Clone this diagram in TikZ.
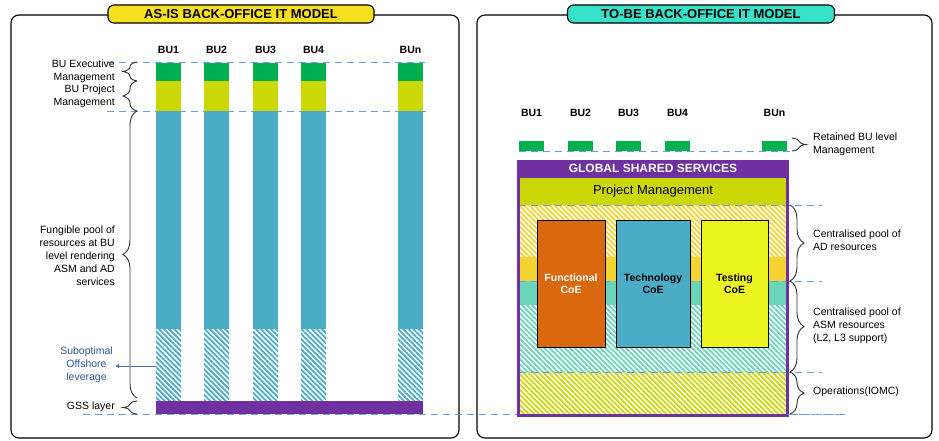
\documentclass[tikz,border=0pt]{standalone}
\usepackage{fontspec}
\setmainfont{Liberation Sans}
\usetikzlibrary{patterns.meta,decorations.pathreplacing,arrows.meta,calc}
\definecolor{cgreen}{HTML}{00B050}
\definecolor{cpm}{HTML}{CCD806}
\definecolor{cblue}{HTML}{4BACC6}
\definecolor{cpurple}{HTML}{7030A0}
\definecolor{corange}{HTML}{D9680E}
\definecolor{ctest}{HTML}{ECF522}
\definecolor{cyel}{HTML}{F5D432}
\definecolor{cteal}{HTML}{6AD5B8}
\definecolor{ctitleY}{HTML}{F7E01F}
\definecolor{ctitleC}{HTML}{36E2C8}
\definecolor{cdash}{HTML}{6C9EDF}
\definecolor{cnote}{HTML}{2F5597}
\begin{document}
\begin{tikzpicture}[x=1pt,y=-1pt,
  lbl/.style={font=\fontsize{10.5}{13}\selectfont, inner sep=0pt},
  bul/.style={font=\fontsize{10.5}{12}\selectfont\bfseries, inner sep=0pt},
  pill/.style={draw=black, line width=1.1pt, rounded corners=6pt, minimum height=18pt, inner sep=0pt, font=\fontsize{13}{14}\selectfont\bfseries},
  panel/.style={draw=black, line width=1.1pt, rounded corners=8pt},
  dl/.style={draw=cdash, line width=1pt, dash pattern=on 7pt off 5pt},
  br/.style={draw=black!80, line width=0.9pt, decorate, decoration={brace, amplitude=14pt}},
  hatch/.style={pattern={Lines[angle=-45,distance=3.6pt,line width=1.8pt]}, pattern color=#1},
  coe/.style={draw=black, line width=0.7pt, inner sep=0pt, align=center, font=\fontsize{10.5}{12.5}\selectfont\bfseries}
]
\useasboundingbox (0,0) rectangle (939,440);
\fill[white] (0,0) rectangle (939,440);

% panels
\draw[panel] (11,15) rectangle (459,438);
\draw[panel] (477,15) rectangle (932,438);
\node[pill, fill=ctitleY, minimum width=266pt] (t1) at (241,14) {AS-IS BACK-OFFICE IT MODEL};
\node[pill, fill=ctitleC, minimum width=267pt] (t2) at (701,14) {TO-BE BACK-OFFICE IT MODEL};

% ---------- left panel ----------
\draw[dl] (107,62) -- (425,62);
\draw[dl] (107,111) -- (430,111);
\foreach \x/\n in {156/1,204/2,253/3,301/4,398/n} {
  \fill[cgreen] (\x,63) rectangle ++(25,18);
  \fill[cpm] (\x,81) rectangle ++(25,30);
  \fill[cblue] (\x,111) rectangle ++(25,218);
  \fill[hatch=cblue] (\x,329) rectangle ++(25,72);
  \node[bul] (L\n) at (\x+12.5,50) {BU\n};
}
\fill[cpurple] (156,401) rectangle (423,414);
\draw[dl] (83,414.5) -- (845,414.5);

\draw[br] (137,81) -- (137,62);
\draw[br] (137,111) -- (137,81);
\draw[br] (137,398) -- (137,111);
\draw[br] (137,414) -- (137,401);

\node[lbl, align=right, anchor=east] (bue) at (115,71.5) {BU Executive\\Management};
\node[lbl, align=right, anchor=east] (bup) at (115,96) {BU Project\\Management};
\node[lbl, align=right, anchor=east] (fung) at (115,256) {Fungible pool of\\resources at BU\\level rendering\\ASM and AD\\services};
\node[lbl, align=right, anchor=east] (gssl) at (115,407) {GSS layer};
\node[lbl, align=center, anchor=east, text=cnote] (subopt) at (113,365) {Suboptimal\\Offshore\\leverage};
\coordinate (arrS) at (156,366);
\coordinate (arrE) at (115,366);
\draw[cnote!85, line width=0.9pt, -{Latex[length=4pt,width=4.5pt]}] (arrS) -- (arrE);

% ---------- right panel ----------
\foreach \x/\n in {519/1,568/2,616/3,665/4,762/n} {
  \fill[cgreen] (\x,141) rectangle ++(25,10);
  \node[bul] (R\n) at (\x+12.5,113) {BU\n};
}
\draw[dl] (519,151) -- (795,151);
\draw[br] (792,138) -- (792,151);
\node[lbl, align=left, anchor=west] (ret) at (813,144) {Retained BU level\\Management};

% GSS box
\fill[cpurple] (517,160) rectangle (789,178);
\node[inner sep=0pt, text=white, font=\fontsize{12}{13}\selectfont\bfseries] (gsst) at (653,168.5) {GLOBAL SHARED SERVICES};
\fill[cpm] (519,178) rectangle (786,205);
\node[inner sep=0pt, font=\fontsize{13}{14}\selectfont] (pm) at (653,191) {Project Management};
\fill[white] (519,205) rectangle (786,414);
\fill[hatch=cyel] (519,205) rectangle (786,257);
\fill[cyel] (519,257) rectangle (786,281);
\fill[cteal] (519,281) rectangle (786,305);
\fill[hatch=cteal] (519,305) rectangle (786,372);
\fill[hatch=cpm] (519,372) rectangle (786,414);
\draw[dl, line width=0.8pt] (519,205) -- (822,205);
\draw[dl, line width=0.8pt] (519,281) -- (822,281);
\draw[dl, line width=0.8pt] (519,372) -- (822,372);
\draw[cpurple, line width=3pt] (518.5,161.5) rectangle (787.5,415.5);
\draw[dl] (787,414.5) -- (845,414.5);

\node[coe, fill=corange, text=white, minimum width=68pt, minimum height=127pt] (fc) at (571,283.5) {Functional\\CoE};
\node[coe, fill=cblue, minimum width=74pt, minimum height=127pt] (tc) at (653,283.5) {Technology\\CoE};
\node[coe, fill=ctest, minimum width=67pt, minimum height=127pt] (tsc) at (734.5,283.5) {Testing\\CoE};

\draw[br] (790,205) -- (790,281);
\draw[br] (790,281) -- (790,372);
\draw[br] (790,372) -- (790,414);
\node[lbl, align=left, anchor=west] (ad) at (813,240.5) {Centralised pool of\\AD resources};
\node[lbl, align=left, anchor=west] (asm) at (813,326) {Centralised pool of\\ASM resources\\(L2, L3 support)};
\node[lbl, align=left, anchor=west] (ops) at (813,392) {Operations(IOMC)};
\end{tikzpicture}
\end{document}
